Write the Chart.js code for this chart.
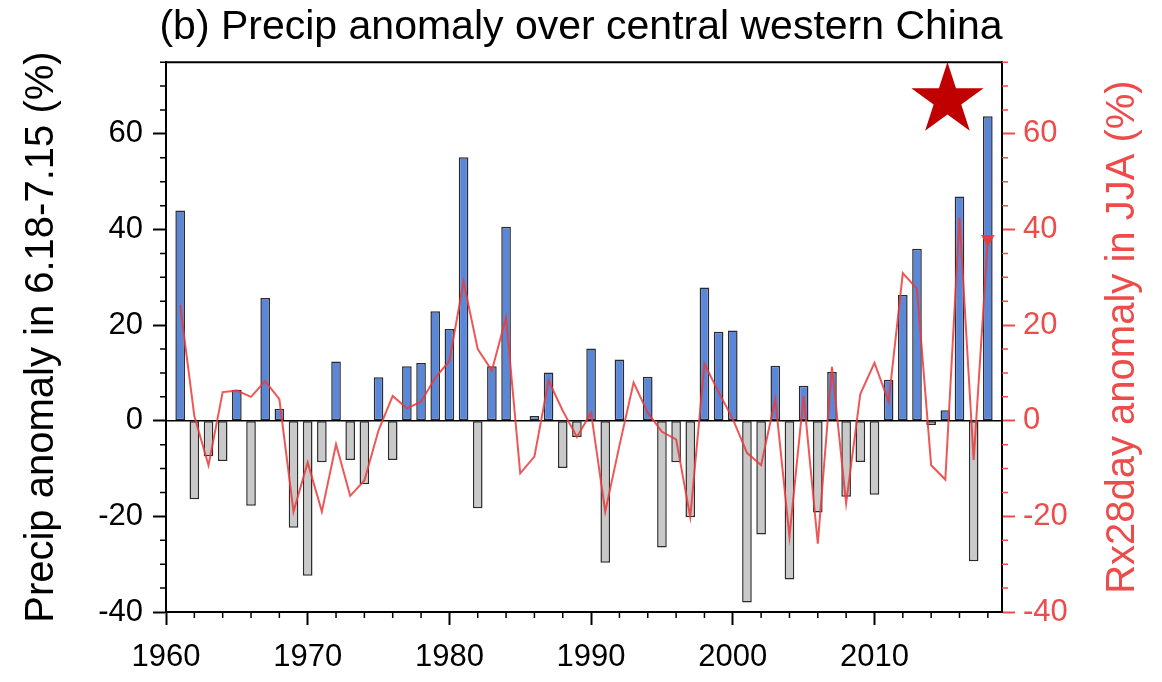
<!DOCTYPE html>
<html>
<head>
<meta charset="utf-8">
<title>Precip anomaly over central western China</title>
<script src="https://cdn.jsdelivr.net/npm/chart.js@4.4.0/dist/chart.umd.min.js"></script>
<style>
  html, body { margin: 0; padding: 0; background: #ffffff; }
  #wrap { width: 1162px; height: 682px; }
</style>
</head>
<body>
<div id="wrap"><canvas id="chart" width="1162" height="682"></canvas></div>
<script>
// Years of record
const years = [
  1961, 1962, 1963, 1964, 1965, 1966, 1967, 1968, 1969, 1970,
  1971, 1972, 1973, 1974, 1975, 1976, 1977, 1978, 1979, 1980,
  1981, 1982, 1983, 1984, 1985, 1986, 1987, 1988, 1989, 1990,
  1991, 1992, 1993, 1994, 1995, 1996, 1997, 1998, 1999, 2000,
  2001, 2002, 2003, 2004, 2005, 2006, 2007, 2008, 2009, 2010,
  2011, 2012, 2013, 2014, 2015, 2016, 2017, 2018
];

// Precipitation anomaly for 18 June - 15 July (%), left axis (bars)
const precipAnomaly = [
  44.0, -16.4, -7.4, -8.4, 6.5, -17.8, 25.7, 2.5, -22.4, -32.4,
  -8.7, 12.4, -8.2, -13.3, 9.1, -8.2, 11.4, 12.1, 22.9, 19.2,
  55.1, -18.3, 11.4, 40.6, 0.0, 1.0, 10.1, -9.9, -3.4, 15.1,
  -29.7, 12.8, 0.0, 9.2, -26.5, -8.7, -20.2, 27.9, 18.6, 18.9,
  -38.0, -23.8, 11.5, -33.2, 7.3, -19.2, 10.2, -15.9, -8.6, -15.5,
  8.6, 26.3, 36.0, -0.9, 2.2, 46.9, -29.4, 63.7
];

// Rx28day anomaly in JJA (%), right axis (line)
const rx28dayAnomaly = [
  24.2, 1.0, -9.3, 6.0, 6.3, 5.0, 8.3, 4.5, -19.0, -8.7,
  -19.0, -4.9, -15.7, -12.5, -2.0, 5.2, 2.6, 4.0, 9.0, 12.5,
  29.1, 15.0, 10.5, 21.6, -11.0, -7.5, 8.4, 2.1, -3.4, 1.7,
  -19.0, -5.2, 8.0, 1.7, -2.3, -3.9, -20.1, 11.9, 6.0, 0.4,
  -6.7, -9.3, 4.5, -24.2, 5.2, -25.7, 11.3, -17.3, 5.6, 12.1,
  4.0, 30.9, 27.6, -9.3, -12.3, 42.5, -8.2, 38.0
];

// Axis tick labels
const xTickLabels = [1960, 1970, 1980, 1990, 2000, 2010];
const yTickLabels = [-40, -20, 0, 20, 40, 60];

// Axis ranges
const xRange = { min: 1960, max: 2019 };
const yRange = { min: -40, max: 75 };

// Star marker placed in data units
const recordMarker = { year: 2015.15, value: 67.1 };

const FONT = '"Liberation Sans", Arial, Helvetica, sans-serif';
const BLUE = '#5b87d9';
const GRAY = '#c9c9c9';
const RED_LINE = 'rgba(236, 58, 58, 0.85)';
const RED_TEXT = '#ee4b4b';

const barPoints = years.map((yr, i) => ({ x: yr, y: precipAnomaly[i] }));
const linePoints = years.map((yr, i) => ({ x: yr, y: rx28dayAnomaly[i] }));

// Minor tick marks, top frame line, zero line, right-axis title and the star
const decorations = {
  id: 'decorations',
  afterDatasetDraw(chart, args) {
    if (args.meta.type !== 'bar') return;
    const { ctx, chartArea: a, scales } = chart;
    const y0 = scales.y.getPixelForValue(0);
    ctx.save();
    ctx.strokeStyle = '#000';
    ctx.lineWidth = 1.6;
    ctx.beginPath();
    ctx.moveTo(a.left, y0);
    ctx.lineTo(a.right, y0);
    ctx.stroke();
    ctx.restore();
  },
  afterDatasetsDraw(chart) {
    const { ctx, scales } = chart;
    const cx = scales.x.getPixelForValue(recordMarker.year);
    const cy = scales.y.getPixelForValue(recordMarker.value);
    const R = 38, r = R * 0.382;
    ctx.save();
    ctx.fillStyle = '#c00000';
    ctx.beginPath();
    for (let k = 0; k < 10; k++) {
      const ang = -Math.PI / 2 + k * Math.PI / 5;
      const rad = k % 2 === 0 ? R : r;
      const px = cx + rad * Math.cos(ang);
      const py = cy + rad * Math.sin(ang);
      if (k === 0) ctx.moveTo(px, py); else ctx.lineTo(px, py);
    }
    ctx.closePath();
    ctx.fill();
    ctx.restore();
  },
  afterDraw(chart) {
    const { ctx, chartArea: a, scales } = chart;
    ctx.save();
    // top frame
    ctx.strokeStyle = '#000';
    ctx.lineWidth = 2;
    ctx.beginPath();
    ctx.moveTo(a.left - 1, a.top);
    ctx.lineTo(a.right + 1, a.top);
    ctx.stroke();

    // minor ticks on the year axis, every 2 years
    ctx.lineWidth = 1.5;
    ctx.beginPath();
    for (let v = xRange.min; v <= xRange.max; v += 2) {
      if (v % 10 === 0) continue;
      const px = scales.x.getPixelForValue(v);
      ctx.moveTo(px, a.bottom);
      ctx.lineTo(px, a.bottom + 6);
    }
    ctx.stroke();

    // minor ticks on the left axis, every 5 %
    ctx.beginPath();
    for (let v = yRange.min; v <= yRange.max; v += 5) {
      if (v % 20 === 0) continue;
      const py = scales.y.getPixelForValue(v);
      ctx.moveTo(a.left, py);
      ctx.lineTo(a.left - 6, py);
    }
    ctx.stroke();

    // minor ticks on the right axis, every 5 %
    ctx.strokeStyle = RED_TEXT;
    ctx.beginPath();
    for (let v = yRange.min; v <= yRange.max; v += 5) {
      if (v % 20 === 0) continue;
      const py = scales.y2.getPixelForValue(v);
      ctx.moveTo(a.right, py);
      ctx.lineTo(a.right + 6, py);
    }
    ctx.stroke();

    // right axis title, reading bottom to top
    ctx.translate(a.right + 121, (a.top + a.bottom) / 2);
    ctx.rotate(-Math.PI / 2);
    ctx.fillStyle = RED_TEXT;
    ctx.font = '40px ' + FONT;
    ctx.textAlign = 'center';
    ctx.textBaseline = 'middle';
    ctx.fillText('Rx28day anomaly in JJA (%)', 0, 0);
    ctx.restore();
  }
};

new Chart(document.getElementById('chart'), {
  type: 'bar',
  data: {
    datasets: [
      {
        type: 'line',
        label: 'Rx28day anomaly in JJA',
        data: linePoints,
        yAxisID: 'y2',
        order: 0,
        borderColor: RED_LINE,
        borderWidth: 2,
        tension: 0,
        pointStyle: 'triangle',
        rotation: 180,
        pointRadius: ctx => (ctx.dataIndex === years.length - 1 ? 6 : 0),
        pointBackgroundColor: RED_LINE,
        pointBorderColor: RED_LINE,
        fill: false
      },
      {
        type: 'bar',
        label: 'Precip anomaly in 6.18-7.15',
        data: barPoints,
        yAxisID: 'y',
        order: 1,
        backgroundColor: ctx => (ctx.parsed && ctx.parsed.y >= 0 ? BLUE : GRAY),
        borderColor: '#2b2b2b',
        borderWidth: 1.5,
        borderSkipped: false,
        barPercentage: 0.68,
        categoryPercentage: 1
      }
    ]
  },
  options: {
    responsive: false,
    animation: false,
    layout: { padding: 0 },
    plugins: {
      legend: { display: false },
      tooltip: { enabled: false },
      title: {
        display: true,
        text: '(b) Precip anomaly over central western China',
        color: '#000',
        font: { family: FONT, size: 41, weight: 'normal', lineHeight: 1.2 },
        padding: { top: 3, bottom: 10 }
      }
    },
    scales: {
      x: {
        type: 'linear',
        min: xRange.min,
        max: xRange.max,
        offset: false,
        afterBuildTicks: s => { s.ticks = xTickLabels.map(v => ({ value: v })); },
        afterFit: s => { s.height = 70; },
        grid: { offset: false, drawOnChartArea: false, drawTicks: true, tickLength: 13, tickWidth: 2, tickColor: '#000', color: '#000' },
        border: { display: true, color: '#000', width: 2 },
        ticks: {
          color: '#000', padding: 14, maxRotation: 0, autoSkip: false,
          font: { family: FONT, size: 31 },
          callback: v => String(v)
        }
      },
      y: {
        type: 'linear',
        position: 'left',
        min: yRange.min,
        max: yRange.max,
        afterBuildTicks: s => { s.ticks = yTickLabels.map(v => ({ value: v })); },
        afterFit: s => { s.width = 166; },
        grid: { drawOnChartArea: false, drawTicks: true, tickLength: 13, tickWidth: 2, tickColor: '#000', color: '#000' },
        border: { display: true, color: '#000', width: 2 },
        ticks: {
          color: '#000', padding: 10,
          font: { family: FONT, size: 31 },
          callback: v => String(v)
        },
        title: {
          display: true,
          text: 'Precip anomaly in 6.18-7.15 (%)',
          color: '#000',
          font: { family: FONT, size: 40, lineHeight: 1.2 },
          padding: { top: 18, bottom: 0 }
        }
      },
      y2: {
        type: 'linear',
        position: 'right',
        min: yRange.min,
        max: yRange.max,
        afterBuildTicks: s => { s.ticks = yTickLabels.map(v => ({ value: v })); },
        afterFit: s => { s.width = 160; },
        grid: { drawOnChartArea: false, drawTicks: true, tickLength: 13, tickWidth: 2, tickColor: RED_TEXT, color: RED_TEXT },
        border: { display: true, color: '#000', width: 2 },
        ticks: {
          color: RED_TEXT, padding: 8,
          font: { family: FONT, size: 31 },
          callback: v => String(v)
        }
      }
    }
  },
  plugins: [decorations]
});
</script>
</body>
</html>
